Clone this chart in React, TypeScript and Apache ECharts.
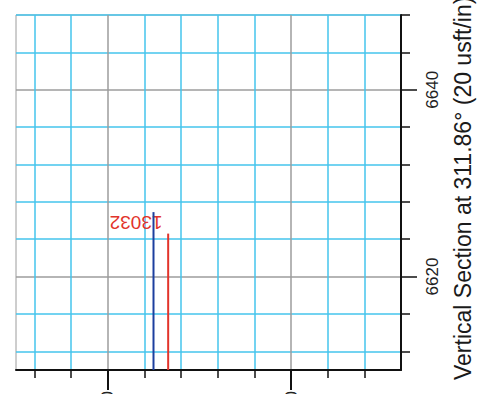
import React, { useEffect, useRef } from "react";
import * as echarts from "echarts";

// Horizontal axis (depth-like), values in usft
const xMin = 12770;
const xMax = 12812;
const xMinorTicks = [12772, 12776, 12784, 12788, 12792, 12796, 12804, 12808];
const xMajorTicks = [12780, 12800];

// Right axis: Vertical Section at 311.86°
const yMin = 6610;
const yMax = 6648;
const yMinorTicks = [6612, 6616, 6624, 6628, 6632, 6636, 6644, 6648];
const yMajorTicks = [6620, 6640];

// Well paths
const blueLine = [
  [12785, 6610],
  [12785, 6626.9],
];
const redLine = [
  [12786.6, 6610],
  [12786.6, 6624.6],
];
const mdLabel = "13032";
const titleText = "Vertical Section at 311.86° (20 usft/in)";

const FONT = "Liberation Sans, Arial, sans-serif";
const CYAN = "#45c4ec";
const GRAY = "#9c9c9c";

export default function App() {
  const ref = useRef<HTMLDivElement>(null);
  useEffect(() => {
    if (!ref.current) return;
    const chart = echarts.init(ref.current, undefined, { renderer: "svg" });
    const plain = (v: number) => String(v);
    chart.setOption({
      animation: false,
      backgroundColor: "#fff",
      grid: {
        left: 16,
        top: 15,
        right: 78,
        bottom: 24,
        show: true,
        borderColor: GRAY,
        borderWidth: 1,
        backgroundColor: "#fff",
        containLabel: false,
        outerBoundsMode: "none",
      },
      xAxis: [
        {
          type: "value",
          min: xMin,
          max: xMax,
          position: "bottom",
          axisLine: { show: true, onZero: false, lineStyle: { color: "#111", width: 2 } },
          axisTick: { show: true, customValues: xMinorTicks, length: 8, lineStyle: { color: "#111", width: 1.5 } },
          axisLabel: { show: false, customValues: xMinorTicks },
          splitLine: { show: true, lineStyle: { color: CYAN, width: 1.5 } },
        },
        {
          type: "value",
          min: xMin,
          max: xMax,
          position: "bottom",
          axisLine: { show: false, onZero: false },
          axisTick: { show: true, customValues: xMajorTicks, length: 20, lineStyle: { color: "#111", width: 2 } },
          axisLabel: {
            show: true,
            customValues: xMajorTicks,
            formatter: plain,
            rotate: 90,
            margin: 21,
            fontSize: 16,
            fontFamily: FONT,
            color: "#222",
          },
          splitLine: { show: true, lineStyle: { color: GRAY, width: 1.5 } },
        },
      ],
      yAxis: [
        {
          type: "value",
          min: yMin,
          max: yMax,
          position: "right",
          axisLine: { show: true, onZero: false, lineStyle: { color: "#111", width: 2 } },
          axisTick: { show: true, customValues: yMinorTicks, length: 9, lineStyle: { color: "#111", width: 1.5 } },
          axisLabel: { show: false, customValues: yMinorTicks },
          splitLine: { show: true, lineStyle: { color: CYAN, width: 1.5 } },
        },
        {
          type: "value",
          min: yMin,
          max: yMax,
          position: "right",
          axisLine: { show: false, onZero: false },
          axisTick: { show: true, customValues: yMajorTicks, length: 16, lineStyle: { color: "#111", width: 1.5 } },
          axisLabel: {
            show: true,
            customValues: yMajorTicks,
            formatter: plain,
            rotate: 90,
            margin: 23,
            fontSize: 17,
            fontFamily: FONT,
            color: "#222",
          },
          splitLine: { show: true, lineStyle: { color: GRAY, width: 1.5 } },
        },
      ],
      series: [
        {
          type: "line",
          data: blueLine,
          xAxisIndex: 0,
          yAxisIndex: 0,
          symbol: "none",
          lineStyle: { color: "#1d3f9e", width: 2 },
          z: 5,
          markPoint: {
            symbol: "circle",
            symbolSize: 0,
            data: [
              {
                coord: blueLine[1],
                label: {
                  show: true,
                  formatter: mdLabel,
                  position: "right",
                  distance: 0,
                  rotate: 180,
                  offset: [-9, -10],
                  color: "#e2342b",
                  fontSize: 19,
                  fontFamily: FONT,
                },
              },
            ],
          },
        },
        {
          type: "line",
          data: redLine,
          xAxisIndex: 0,
          yAxisIndex: 0,
          symbol: "none",
          lineStyle: { color: "#e2342b", width: 2 },
          z: 5,
        },
      ],
      graphic: [
        {
          type: "text",
          x: 463,
          y: 380,
          rotation: Math.PI / 2,
          style: {
            text: titleText,
            font: `23px ${FONT}`,
            fill: "#1a1a1a",
            textAlign: "left",
            textVerticalAlign: "middle",
          },
        },
      ],
    });
    return () => chart.dispose();
  }, []);
  return (
    <div
      ref={ref}
      style={{ position: "absolute", left: 0, top: 0, width: 479, height: 394, background: "#fff" }}
    />
  );
}
